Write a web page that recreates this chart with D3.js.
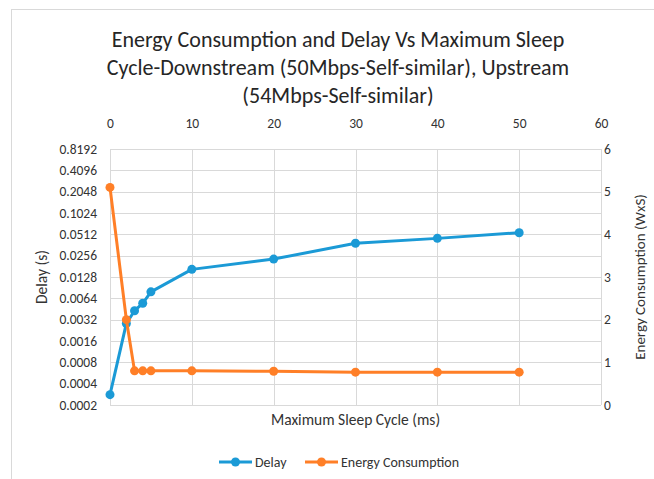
<!DOCTYPE html>
<html><head><meta charset="utf-8">
<script src="https://cdn.jsdelivr.net/npm/d3@7"></script>
<style>body{margin:0;background:#fff;} svg{display:block;font-family:Carlito,Calibri,Lato,sans-serif;}</style>
</head><body>
<svg id="c" width="654" height="479"></svg>
<script>
const sleepCycle = [0, 2, 3, 4, 5, 10, 20, 30, 40, 50];
const delay = [0.00028, 0.00283, 0.00428, 0.00545, 0.0079, 0.0164, 0.0229, 0.0383, 0.0449, 0.054];
const energy = [5.1, 2.0, 0.8, 0.8, 0.8, 0.8, 0.79, 0.77, 0.77, 0.77];
const xTicks = [0, 10, 20, 30, 40, 50, 60];
const delayTicks = [0.0002, 0.0004, 0.0008, 0.0016, 0.0032, 0.0064, 0.0128, 0.0256, 0.0512, 0.1024, 0.2048, 0.4096, 0.8192];
const energyTicks = [0, 1, 2, 3, 4, 5, 6];
const titleLines = ["Energy Consumption and Delay Vs Maximum Sleep", "Cycle-Downstream (50Mbps-Self-similar), Upstream", "(54Mbps-Self-similar)"];
const series = [{name: "Delay", color: "#1b9ad6"}, {name: "Energy Consumption", color: "#ff7f27"}];

const svg = d3.select("#c");
const L = 110, R = 601, T = 149, B = 405;
const x = d3.scaleLinear().domain([0, 60]).range([L, R]);
const yL = d3.scaleLog().base(2).domain([0.0002, 0.8192]).range([B, T]);
const yR = d3.scaleLinear().domain([0, 6]).range([B, T]);
const txt = "#333333";

// chart border
svg.append("rect").attr("x", 11.5).attr("y", 9.5).attr("width", 700).attr("height", 520)
  .attr("fill", "none").attr("stroke", "#d9d9d9");

// title
svg.append("g").selectAll("text").data(titleLines).join("text")
  .attr("x", 338).attr("y", (d, i) => 47 + i * 28).attr("text-anchor", "middle")
  .attr("font-size", 22).attr("fill", "#262626").text(d => d);

// gridlines
const grid = svg.append("g").attr("stroke", "#d9d9d9").attr("stroke-width", 1);
grid.selectAll("line.h").data(delayTicks).join("line")
  .attr("x1", L).attr("x2", R).attr("y1", d => Math.round(yL(d)) + 0.5).attr("y2", d => Math.round(yL(d)) + 0.5);
grid.selectAll("line.v").data(xTicks).join("line")
  .attr("y1", T).attr("y2", B).attr("x1", d => Math.round(x(d)) + 0.5).attr("x2", d => Math.round(x(d)) + 0.5);

// axes
const axTop = svg.append("g").attr("transform", `translate(0,${T - 15})`)
  .call(d3.axisTop(x).tickValues(xTicks).tickSize(0).tickPadding(6));
const axLeft = svg.append("g").attr("transform", `translate(${L - 13},0)`)
  .call(d3.axisLeft(yL).tickValues(delayTicks).tickSize(0).tickPadding(0).tickFormat(d3.format(".4~f")));
const axRight = svg.append("g").attr("transform", `translate(${R + 3},0)`)
  .call(d3.axisRight(yR).tickValues(energyTicks).tickSize(0).tickPadding(0).tickFormat(d3.format("d")));
[axTop, axLeft, axRight].forEach(g => {
  g.select(".domain").remove();
  g.selectAll("text").attr("font-size", 13.5).attr("fill", txt).attr("font-family", "Carlito,Calibri,Lato,sans-serif");
});

// axis titles
svg.append("text").attr("transform", `translate(47,${(T + B) / 2}) rotate(-90)`).attr("text-anchor", "middle")
  .attr("font-size", 15.5).attr("fill", txt).text("Delay (s)");
svg.append("text").attr("transform", `translate(645,${(T + B) / 2}) rotate(-90)`).attr("text-anchor", "middle")
  .attr("font-size", 15).attr("fill", txt).text("Energy Consumption (WxS)");
svg.append("text").attr("x", (L + R) / 2).attr("y", 425).attr("text-anchor", "middle")
  .attr("font-size", 15.5).attr("fill", txt).text("Maximum Sleep Cycle (ms)");

// series
const delayPts = sleepCycle.map((s, i) => [x(s), yL(delay[i])]);
const energyPts = sleepCycle.map((s, i) => [x(s), yR(energy[i])]);
const line = d3.line();
[[delayPts, series[0].color], [energyPts, series[1].color]].forEach(([pts, c]) => {
  const g = svg.append("g");
  g.append("path").attr("d", line(pts)).attr("fill", "none").attr("stroke", c).attr("stroke-width", 3).attr("stroke-linejoin", "round");
  g.selectAll("circle").data(pts).join("circle").attr("cx", d => d[0]).attr("cy", d => d[1]).attr("r", 4.5).attr("fill", c);
});

// legend
const leg = svg.append("g");
const legX = [219, 305];
series.forEach((s, i) => {
  const g = leg.append("g").attr("transform", `translate(${legX[i]},462)`);
  g.append("line").attr("x1", 0).attr("x2", 33).attr("stroke", s.color).attr("stroke-width", 3);
  g.append("circle").attr("cx", 16.5).attr("r", 4.5).attr("fill", s.color);
  g.append("text").attr("x", 36).attr("y", 5).attr("font-size", 14).attr("fill", txt).text(s.name);
});
</script>
</body></html>
